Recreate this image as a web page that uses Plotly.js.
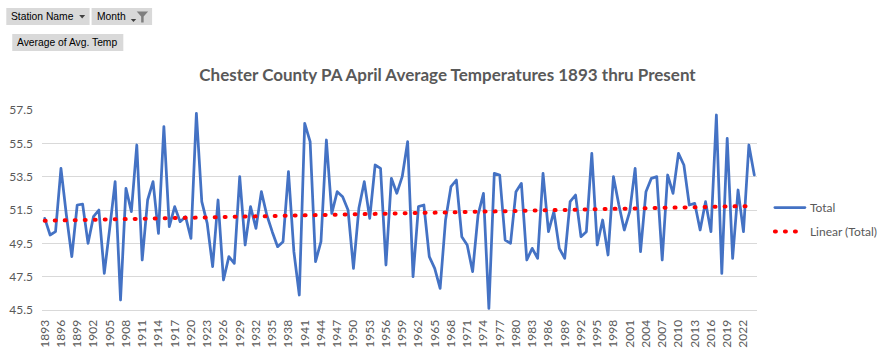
<!DOCTYPE html>
<html>
<head>
<meta charset="utf-8">
<script src="https://cdn.plot.ly/plotly-3.0.1.min.js"></script>
<style>
  html, body { margin: 0; padding: 0; background: #ffffff; }
  #chart { width: 895px; height: 350px; }
  .main-svg path.js-line { stroke-linecap: round; stroke-linejoin: round; }
</style>
</head>
<body>
<div id="chart"></div>
<script>
// ---- data ----
const years = [1893,1894,1895,1896,1897,1898,1899,1900,1901,1902,1903,1904,1905,1906,1907,1908,1909,1910,
  1911,1912,1913,1914,1915,1916,1917,1918,1919,1920,1921,1922,1923,1924,1925,1926,1927,1928,1929,1930,
  1931,1932,1933,1934,1935,1936,1937,1938,1939,1940,1941,1942,1943,1944,1945,1946,1947,1948,1949,1950,
  1951,1952,1953,1954,1955,1956,1957,1958,1959,1960,1961,1962,1963,1964,1965,1966,1967,1968,1969,1970,
  1971,1972,1973,1974,1975,1976,1977,1978,1979,1980,1981,1982,1983,1984,1985,1986,1987,1988,1989,1990,
  1991,1992,1993,1994,1995,1996,1997,1998,1999,2000,2001,2002,2003,2004,2005,2006,2007,2008,2009,2010,
  2011,2012,2013,2014,2015,2016,2017,2018,2019,2020,2021,2022,2023,2024];

const avgTemp = [51.0,50.0,50.2,54.0,51.2,48.7,51.8,51.85,49.5,51.1,51.5,47.7,50.4,53.2,46.1,52.8,51.4,55.4,
  48.5,52.1,53.2,50.1,56.5,50.5,51.7,50.8,51.1,49.8,57.3,52.0,50.7,48.1,52.1,47.3,48.7,48.3,53.5,49.4,
  51.7,50.4,52.6,51.2,50.2,49.3,49.6,53.8,49.0,46.4,56.7,55.6,48.4,49.6,55.7,51.3,52.6,52.3,51.5,48.0,
  51.6,53.2,51.0,54.2,54.0,48.2,53.4,52.5,53.5,55.6,47.5,51.7,51.8,48.7,48.0,46.8,50.9,52.9,53.3,49.9,
  49.4,47.8,51.2,52.5,45.6,53.7,53.6,49.7,49.5,52.6,53.1,48.5,49.2,48.6,53.7,50.2,51.4,49.2,48.6,52.0,
  52.4,49.9,50.2,54.9,49.4,50.9,48.8,53.5,51.8,50.3,51.4,54.0,49.0,52.6,53.4,53.5,48.5,53.6,52.5,54.9,
  54.2,51.8,51.9,50.3,52.0,50.2,57.2,47.7,55.8,48.6,52.7,50.2,55.4,53.6];

const tickYears = [1893,1896,1899,1902,1905,1908,1911,1914,1917,1920,1923,1926,1929,1932,1935,1938,1941,
  1944,1947,1950,1953,1956,1959,1962,1965,1968,1971,1974,1977,1980,1983,1986,1989,1992,1995,1998,2001,
  2004,2007,2010,2013,2016,2019,2022];

const seriesName = 'Total';
const trendName = 'Linear (Total)';
const chartTitle = 'Chester County PA April Average Temperatures 1893 thru Present';

// ---- linear trend (least squares on category index, like Excel) ----
const n = avgTemp.length;
let sx = 0, sy = 0, sxx = 0, sxy = 0;
for (let i = 0; i < n; i++) { const xi = i + 1; sx += xi; sy += avgTemp[i]; sxx += xi * xi; sxy += xi * avgTemp[i]; }
const slope = (n * sxy - sx * sy) / (n * sxx - sx * sx);
const intercept = (sy - slope * sx) / n;
const trend = avgTemp.map((v, i) => intercept + slope * (i + 1));

const xs = years.map(String);

// ---- pixel helpers for decorations (plot area: l=42, t=110, w=721, h=200) ----
const L = 42, T = 110, W = 721, H = 200;
const px = v => (v - L) / W;
const py = v => (T + H - v) / H;

const textFont = { family: 'Liberation Sans, Arial, sans-serif', size: 10.3, color: '#000000' };
const btnFill = '#d9d9d9';

const shapes = [
  { type: 'rect', xref: 'paper', yref: 'paper', x0: px(6), x1: px(90), y0: py(8), y1: py(25), fillcolor: btnFill, line: { width: 0 } },
  { type: 'rect', xref: 'paper', yref: 'paper', x0: px(92), x1: px(153), y0: py(8), y1: py(25), fillcolor: btnFill, line: { width: 0 } },
  { type: 'rect', xref: 'paper', yref: 'paper', x0: px(12), x1: px(124), y0: py(34), y1: py(51), fillcolor: btnFill, line: { width: 0 } },
  // dropdown arrow (Station Name)
  { type: 'path', xref: 'paper', yref: 'paper',
    path: `M ${px(79.5)} ${py(15)} L ${px(85.5)} ${py(15)} L ${px(82.5)} ${py(18.5)} Z`,
    fillcolor: '#404040', line: { width: 0 } },
  // dropdown arrow (Month)
  { type: 'path', xref: 'paper', yref: 'paper',
    path: `M ${px(131.5)} ${py(19)} L ${px(137)} ${py(19)} L ${px(134.25)} ${py(22)} Z`,
    fillcolor: '#404040', line: { width: 0 } },
  // filter funnel (Month)
  { type: 'path', xref: 'paper', yref: 'paper',
    path: `M ${px(137.5)} ${py(11.5)} L ${px(149)} ${py(11.5)} L ${px(144.5)} ${py(16.5)} L ${px(144.5)} ${py(22.5)} L ${px(142)} ${py(22.5)} L ${px(142)} ${py(16.5)} Z`,
    fillcolor: '#7f7f7f', line: { width: 0 } }
];

const annotations = [
  { xref: 'paper', yref: 'paper', x: px(9), y: py(16.5), xanchor: 'left', yanchor: 'middle', showarrow: false, text: 'Station Name', font: textFont },
  { xref: 'paper', yref: 'paper', x: px(95), y: py(16.5), xanchor: 'left', yanchor: 'middle', showarrow: false, text: 'Month', font: textFont },
  { xref: 'paper', yref: 'paper', x: px(15), y: py(42.5), xanchor: 'left', yanchor: 'middle', showarrow: false, text: 'Average of Avg. Temp', font: textFont }
];

const traces = [
  { type: 'scatter', mode: 'lines', name: seriesName, x: xs, y: avgTemp, legendgroup: 'g1',
    line: { color: '#4472C4', width: 2.75 }, hoverinfo: 'x+y' },
  { type: 'scatter', mode: 'lines', name: trendName, x: xs, y: trend, legendgroup: 'g2',
    line: { color: '#FF0000', width: 4, dash: '1px,9px' }, hoverinfo: 'skip' }
];

const layout = {
  width: 895, height: 350,
  margin: { l: L, r: 895 - L - W, t: T, b: 350 - T - H, pad: 0 },
  paper_bgcolor: '#ffffff', plot_bgcolor: '#ffffff',
  font: { family: 'Lato, Calibri, Carlito, sans-serif', color: '#595959', size: 12 },
  title: {
    text: chartTitle,
    font: { family: 'Lato, Calibri, sans-serif', size: 17, color: '#595959', weight: 'bold' },
    x: 0.5, xref: 'container', xanchor: 'center',
    y: 1 - 75 / 350, yref: 'container', yanchor: 'middle'
  },
  xaxis: {
    type: 'category', range: [-0.5, years.length - 0.5],
    tickmode: 'array', tickvals: tickYears.map(String), ticktext: tickYears.map(String),
    tickangle: -90, tickfont: { size: 12, color: '#595959' },
    showgrid: false, zeroline: false, showline: true, linecolor: '#d9d9d9', linewidth: 1,
    ticks: '', ticklabelstandoff: 4, fixedrange: true
  },
  yaxis: {
    range: [45.5, 57.5], tick0: 45.5, dtick: 2, tickformat: '.1f',
    tickfont: { size: 12, color: '#595959' },
    showgrid: true, gridcolor: '#d9d9d9', gridwidth: 1, zeroline: false, showline: false,
    ticks: '', ticklabelstandoff: 8, fixedrange: true
  },
  showlegend: true,
  legend: {
    x: px(776), y: py(193), xanchor: 'left', yanchor: 'top',
    traceorder: 'grouped', tracegroupgap: 5,
    bgcolor: 'rgba(0,0,0,0)', font: { size: 12, color: '#595959' }
  },
  shapes: shapes,
  annotations: annotations
};

Plotly.newPlot('chart', traces, layout, { displayModeBar: false });
</script>
</body>
</html>
